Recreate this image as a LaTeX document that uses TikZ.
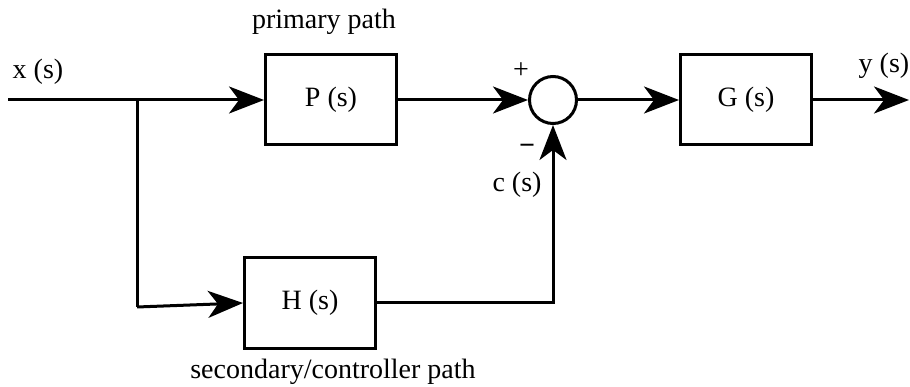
\documentclass[tikz,border=0pt]{standalone}
\usepackage{fontspec}
\setmainfont{Liberation Serif}
\usetikzlibrary{arrows.meta}

\begin{document}
\begin{tikzpicture}[x=1pt,y=-1pt,line width=3pt,
    font=\fontsize{28}{34}\selectfont,
    block/.style={draw,rectangle,minimum width=131pt,minimum height=90pt},
    sig/.style={-{Stealth[length=35pt,width=27pt,inset=10pt]}},
    lbl/.style={inner sep=0pt}]
    \useasboundingbox (0,0) rectangle (910,387);

    % blocks
    \node[block] (P) at (331,100) {P (s)};
    \node[block] (G) at (746,100) {G (s)};
    \node[block] (H) at (310,303) {H (s)};
    \node[draw,circle,minimum size=47pt,inner sep=0pt] (sum) at (553,100) {};

    % signal ends
    \coordinate (in) at (8,100);
    \coordinate (split) at (137,100);
    \coordinate (low) at (137,307);
    \coordinate (out) at (909,100);

    % connections
    \draw[sig] (in) -- (P.west);
    \draw (split) -- (low);
    \draw[sig] (low) -- (H.west);
    \draw[sig] (P.east) -- (sum.west);
    \draw[sig] (H.east) -| (sum.south);
    \draw[sig] (sum.east) -- (G.west);
    \draw[sig] (G.east) -- (out);

    % labels
    \node[lbl] (prim) at (324,22) {primary path};
    \node[lbl] (sec) at (333,372) {secondary/controller path};
    \node[lbl] (xs) at (38,72) {x (s)};
    \node[lbl] (ys) at (884,66) {y (s)};
    \node[lbl] (cs) at (517,185) {c (s)};
    \node[lbl] (plus) at (521,71) {+};
    \node[lbl] (minus) at (527,149) {\bfseries\char"2212};
\end{tikzpicture}
\end{document}
